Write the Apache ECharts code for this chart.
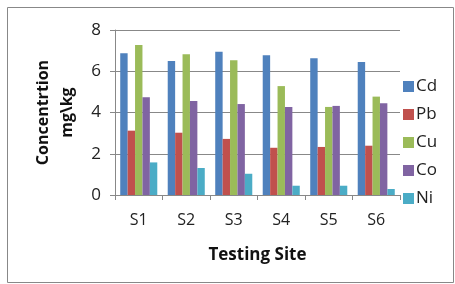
<!DOCTYPE html>
<html>
<head>
<meta charset="utf-8">
<script src="https://cdn.jsdelivr.net/npm/echarts@6/dist/echarts.min.js"></script>
<style>
  html, body { margin: 0; padding: 0; background: #fff; }
  #chart { width: 455px; height: 284px; }
</style>
</head>
<body>
<div id="chart"></div>
<script>
const sites = ["S1", "S2", "S3", "S4", "S5", "S6"];
const cd = [6.87, 6.50, 6.95, 6.77, 6.63, 6.45];
const pb = [3.12, 3.02, 2.72, 2.29, 2.33, 2.39];
const cu = [7.27, 6.82, 6.53, 5.28, 4.27, 4.77];
const co = [4.74, 4.56, 4.41, 4.27, 4.32, 4.45];
const ni = [1.58, 1.31, 1.03, 0.45, 0.45, 0.29];
const metals = ["Cd", "Pb", "Cu", "Co", "Ni"];
const colors = ["#4F81BD", "#C0504D", "#9BBB59", "#8064A2", "#4BACC6"];

const chart = echarts.init(document.getElementById("chart"), null, { renderer: "canvas" });
const font = "'Open Sans', sans-serif";
const values = [cd, pb, cu, co, ni];

const option = {
  animation: false,
  color: colors,
  textStyle: { fontFamily: font },
  graphic: [{
    type: "rect",
    shape: { x: 7.5, y: 7.5, width: 446, height: 275 },
    style: { fill: "none", stroke: "#888", lineWidth: 1 }
  }],
  grid: { left: 115, right: 55, top: 30, bottom: 89 },
  legend: {
    orient: "vertical",
    left: 398,
    top: 73,
    itemWidth: 11,
    itemHeight: 11,
    itemGap: 11,
    icon: "rect",
    data: metals,
    textStyle: { fontSize: 17, color: "#222", padding: [0, 0, 0, -3] }
  },
  xAxis: {
    type: "category",
    data: sites,
    name: "Testing Site",
    nameLocation: "middle",
    nameGap: 52,
    nameTextStyle: { fontSize: 17, fontWeight: "bold", color: "#111" },
    axisLine: { lineStyle: { color: "#888" } },
    axisTick: { show: true, alignWithLabel: false, length: 5, lineStyle: { color: "#888" } },
    axisLabel: { fontSize: 16, color: "#222", margin: 17 }
  },
  yAxis: {
    type: "value",
    min: 0,
    max: 8,
    interval: 2,
    name: "Concentrtion\nmg\\kg",
    nameLocation: "middle",
    nameGap: 36,
    nameTextStyle: { fontSize: 16, fontWeight: "bold", color: "#111", lineHeight: 24 },
    axisLine: { show: true, lineStyle: { color: "#888" } },
    axisTick: { show: true, length: 5, lineStyle: { color: "#888" } },
    axisLabel: { fontSize: 17, color: "#222", margin: 14 },
    splitLine: { lineStyle: { color: "#888" } }
  },
  series: metals.map((m, i) => ({
    name: m,
    type: "bar",
    data: values[i],
    barGap: "0%",
    barCategoryGap: "22%"
  }))
};

chart.setOption(option);
</script>
</body>
</html>
